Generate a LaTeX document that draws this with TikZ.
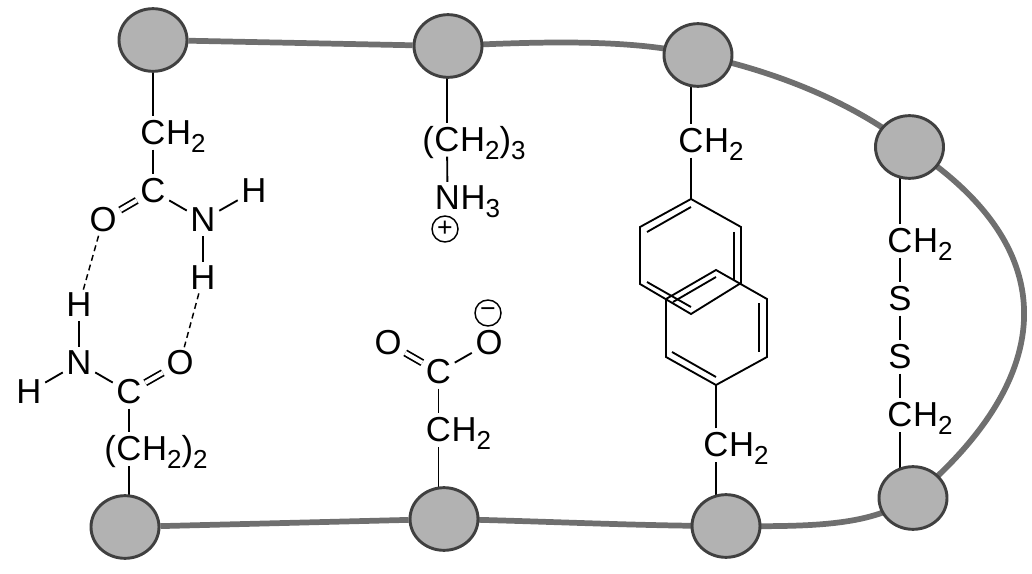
\documentclass[tikz,border=0pt]{standalone}
\usepackage{fontspec}
\setmainfont{Liberation Sans}
\usetikzlibrary{backgrounds,shapes.geometric}
\newcommand{\subsc}[1]{\raisebox{-6pt}{\fontsize{19.5}{19.5}\selectfont #1}}
\definecolor{chainc}{HTML}{6F6F6F}
\definecolor{resfill}{HTML}{B2B2B2}
\definecolor{resline}{HTML}{404040}
\tikzset{
  x=0.75pt,y=-0.75pt,
  residue/.style={ellipse,draw=resline,fill=resfill,line width=2.2pt,inner sep=0pt,minimum width=51pt,minimum height=47pt},
  atom/.style={inner sep=0pt,font=\fontsize{26}{26}\selectfont},
  tailr/.style={atom,anchor=base west},
  taill/.style={atom,anchor=base east},
  charge/.style={circle,draw,line width=1.1pt,inner sep=0pt,minimum size=19.5pt,font=\fontsize{20}{20}\selectfont},
  bond/.style={line width=1.4pt,black,shorten >=3pt,shorten <=3pt},
  resbond/.style={line width=1.4pt,black,shorten >=3pt},
  hbond/.style={line width=1.1pt,black,dashed,dash pattern=on 4.5pt off 3pt,shorten >=2.5pt,shorten <=2.5pt},
  dbl/.style={bond,double,double distance=3pt,line width=1.3pt},
  ring/.style={line width=1.4pt,black,line join=miter},
  chain/.style={line width=4.3pt,chainc},
}
\begin{document}
\begin{tikzpicture}
\useasboundingbox (0,0) rectangle (1032,574);
% residues
\node[residue] (r1) at (153,40) {};
\node[residue] (r2) at (448,46) {};
\node[residue] (r3) at (698,55) {};
\node[residue] (r4) at (909.5,147) {};
\node[residue] (r5) at (125,527) {};
\node[residue] (r6) at (444,519) {};
\node[residue] (r7) at (726,526) {};
\node[residue] (r8) at (913,498) {};
% asparagine-like
\node[atom] (a1) at (153,133) {C};
\node[tailr] (a1t) at (a1.base east) {H\subsc{2}};
\node[atom] (a2) at (153,191) {C};
\node[atom] (a3) at (103,220) {O};
\node[atom] (a4) at (203,220) {N};
\node[atom] (a5) at (254,191) {H};
\node[atom] (a6) at (203,278) {H};
\node[atom] (b1) at (79,305) {H};
\node[atom] (b2) at (79,363) {N};
\node[atom] (b3) at (29,392) {H};
\node[atom] (b4) at (129,392) {C};
\node[atom] (b5) at (180,363) {O};
\node[atom] (b6) at (129,449) {C};
\node[taill] (b6l) at (b6.base west) {(};
\node[tailr] (b6t) at (b6.base east) {H\subsc{2})\subsc{2}};
% lysine
\node[atom] (c1) at (447,140) {C};
\node[taill] (c1l) at (c1.base west) {(};
\node[tailr] (c1t) at (c1.base east) {H\subsc{2})\subsc{3}};
\node[atom] (c2) at (447.5,198) {N};
\node[tailr] (c2t) at (c2.base east) {H\subsc{3}};
\node[charge] (c3) at (445,229) {+};
% aspartate
\node[atom] (d1) at (388,343) {O};
\node[atom] (d2) at (489,343) {O};
\node[atom] (d3) at (438.5,372) {C};
\node[atom] (d4) at (438.5,430) {C};
\node[tailr] (d4t) at (d4.base east) {H\subsc{2}};
\node[charge] (d5) at (488,313) {−};
% aromatic
\node[atom] (e1) at (691,141) {C};
\node[tailr] (e1t) at (e1.base east) {H\subsc{2}};
\node[atom] (f1) at (716,445) {C};
\node[tailr] (f1t) at (f1.base east) {H\subsc{2}};
\coordinate (e2) at (691,199);
\coordinate (e3) at (741,227);
\coordinate (e4) at (741,283);
\coordinate (e5) at (691,314);
\coordinate (e6) at (640,284);
\coordinate (e7) at (640,227);
\coordinate (f2) at (716,385);
\coordinate (f3) at (767,357);
\coordinate (f4) at (767,299);
\coordinate (f5) at (716,270);
\coordinate (f6) at (666,299);
\coordinate (f7) at (666,357);
\draw[ring] (e2) -- (e3) -- (e4) -- (e5) -- (e6) -- (e7) -- cycle;
\draw[ring] (f2) -- (f3) -- (f4) -- (f5) -- (f6) -- (f7) -- cycle;
\draw[ring] (647,232) -- (691,207);
\draw[ring] (734,232) -- (734,280);
\draw[ring] (647,282) -- (691,307);
\draw[ring] (673,302) -- (716,277);
\draw[ring] (759,303) -- (759,352);
\draw[ring] (672,352) -- (716,377);
% cystine
\node[atom] (g1) at (900,241) {C};
\node[tailr] (g1t) at (g1.base east) {H\subsc{2}};
\node[atom] (g2) at (900,299) {S};
\node[atom] (g3) at (900,357) {S};
\node[atom] (g4) at (900,415) {C};
\node[tailr] (g4t) at (g4.base east) {H\subsc{2}};
% bonds
\draw[bond] (a1) -- (a2);
\draw[dbl] (a2) -- (a3);
\draw[bond] (a2) -- (a4);
\draw[bond] (a4) -- (a5);
\draw[bond] (a4) -- (a6);
\draw[hbond] (a3) -- (b1);
\draw[hbond] (a6) -- (b5);
\draw[bond] (b1) -- (b2);
\draw[bond] (b2) -- (b3);
\draw[bond] (b2) -- (b4);
\draw[dbl] (b4) -- (b5);
\draw[bond] (b4) -- (b6);
\draw[bond] (c1) -- (c2);
\draw[dbl] (d3) -- (d1);
\draw[bond] (d3) -- (d2);
\draw[bond] (d3) -- (d4);
\draw[bond,shorten <=3pt,shorten >=0pt] (e1) -- (e2);
\draw[bond,shorten <=3pt,shorten >=0pt] (f1) -- (f2);
\draw[bond] (g1) -- (g2);
\draw[bond] (g2) -- (g3);
\draw[bond] (g3) -- (g4);
\begin{scope}[on background layer]
  \draw[chain] (r1) -- (r2);
  \draw[chain] (r2.center) .. controls (530,42) and (630,38) .. (r3.center);
  \draw[chain] (r3.center) .. controls (770,70) and (850,100) .. (r4.center);
  \draw[chain] (r4.center) .. controls (1075,255) and (1048,385) .. (r8.center);
  \draw[chain] (r8.center) .. controls (870,525) and (820,527) .. (r7.center);
  \draw[chain] (r7.center) .. controls (640,526) and (540,521) .. (r6.center);
  \draw[chain] (r6) -- (r5);
  \draw[resbond] (a1 |- r1.center) -- (a1);
  \draw[resbond] (b6 |- r5.center) -- (b6);
  \draw[resbond] (c1 |- r2.center) -- (c1);
  \draw[resbond] (d4 |- r6.center) -- (d4);
  \draw[resbond] (e1 |- r3.center) -- (e1);
  \draw[resbond] (f1 |- r7.center) -- (f1);
  \draw[resbond] (g1 |- r4.center) -- (g1);
  \draw[resbond] (g4 |- r8.center) -- (g4);
\end{scope}
\end{tikzpicture}
\end{document}
